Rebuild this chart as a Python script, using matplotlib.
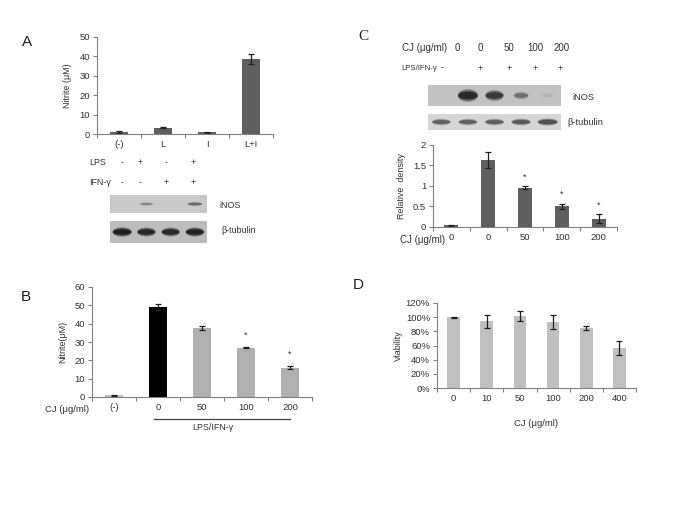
import matplotlib
matplotlib.use("Agg")
import matplotlib.pyplot as plt
from matplotlib.patches import Ellipse
from matplotlib.ticker import FuncFormatter
from matplotlib import transforms

plt.rcParams['font.family'] = ['Liberation Sans', 'DejaVu Sans']

# panel A
a_groups = ['(-)', 'L', 'I', 'L+I']
a_nitrite = [1.0, 3.2, 0.9, 38.5]
a_err = [0.3, 0.3, 0.3, 2.5]
a_lps = ['-', '+', '-', '+']
a_ifn = ['-', '-', '+', '+']
a_inos = [0.0, 0.3, 0.0, 0.45]
a_tub = [1.0, 0.92, 0.9, 0.95]

# panel B
b_doses = ['(-)', '0', '50', '100', '200']
b_nitrite = [1.0, 49.0, 37.8, 27.0, 16.0]
b_err = [0.3, 1.8, 1.0, 0.4, 0.8]
b_sig = [False, False, False, True, True]

# panel C
c_doses = ['0', '0', '50', '100', '200']
c_stim = ['-', '+', '+', '+', '+']
c_density = [0.04, 1.64, 0.96, 0.50, 0.20]
c_err = [0.01, 0.20, 0.03, 0.06, 0.11]
c_sig = [False, False, True, True, True]
c_inos = [0.0, 1.0, 0.8, 0.4, 0.06]
c_tub = [0.7, 0.7, 0.72, 0.75, 0.85]

# panel D
d_doses = ['0', '10', '50', '100', '200', '400']
d_viab = [1.00, 0.94, 1.02, 0.93, 0.85, 0.56]
d_err = [0.005, 0.09, 0.07, 0.10, 0.03, 0.10]

W, H = 685, 513
fig = plt.figure(figsize=(W / 100, H / 100), dpi=100)
fig.patch.set_facecolor('white')

TXT = '#303030'
AX = '#808080'
FS = 6.4


def px_axes(x0, y0, x1, y1):
    return fig.add_axes([x0 / W, 1 - y1 / H, (x1 - x0) / W, (y1 - y0) / H])


def style_bar_axes(ax, n, labels):
    for s in ['top', 'right']:
        ax.spines[s].set_visible(False)
    for s in ['left', 'bottom']:
        ax.spines[s].set_color(AX)
        ax.spines[s].set_linewidth(0.8)
    ax.set_xlim(-0.5, n - 0.5)
    ax.set_xticks([i - 0.5 for i in range(n + 1)])
    ax.set_xticklabels([])
    ax.tick_params(axis='x', which='major', length=3, color=AX, width=0.8)
    ax.set_xticks(range(n), minor=True)
    ax.set_xticklabels(labels, minor=True, fontsize=FS + 0.4, color=TXT)
    ax.tick_params(axis='x', which='minor', length=0, pad=4)
    ax.tick_params(axis='y', length=3, color=AX, width=0.8, labelsize=FS + 0.4,
                   labelcolor=TXT, pad=2)


def draw_blot(ax, vals, bg, band_w, band_h, core='#141414'):
    ax.set_xlim(-0.5, len(vals) - 0.5)
    ax.set_ylim(0, 1)
    ax.set_facecolor(bg)
    for s in ax.spines.values():
        s.set_visible(False)
    ax.set_xticks([])
    ax.set_yticks([])
    for i, v in enumerate(vals):
        if v <= 0:
            continue
        w = band_w * (0.55 + 0.45 * v)
        h = band_h * (0.35 + 0.65 * v)
        for f, a in [(1.25, 0.25), (1.0, 0.45), (0.7, 0.7)]:
            ax.add_patch(Ellipse((i, 0.5), w * (0.85 + 0.15 * f), h * f,
                                 facecolor=core, edgecolor='none', alpha=a * v))


err_kw = dict(ecolor='#202020', elinewidth=0.9, capsize=2.5, capthick=0.9)

# ---------------- A ----------------
axA = px_axes(97, 37, 273, 134)
axA.bar(range(len(a_groups)), a_nitrite, width=0.41, color='#5f5f5f',
        yerr=a_err, error_kw=err_kw)
axA.set_ylim(0, 50)
axA.set_yticks(range(0, 51, 10))
style_bar_axes(axA, len(a_groups), a_groups)
axA.set_ylabel('Nitrite (\u03bcM)', fontsize=FS, color=TXT, labelpad=5)
fig.text(27 / W, 1 - 42 / H, 'A', fontsize=11, color='#202020', ha='center', va='center')

bA1 = px_axes(110, 195, 207, 213)
draw_blot(bA1, a_inos, '#c9c9c9', 0.8, 0.3)
bA2 = px_axes(110, 221, 207, 243)
draw_blot(bA2, a_tub, '#bdbdbd', 0.78, 0.36, core='#0a0a0a')
fig.text(89 / W, 1 - 163 / H, 'LPS', fontsize=FS, color=TXT, va='center')
fig.text(89 / W, 1 - 183 / H, 'IFN-\u03b3', fontsize=FS, color=TXT, va='center')
a_sign_x = [122, 140, 166, 193]
for i in range(len(a_groups)):
    fig.text(a_sign_x[i] / W, 1 - 163 / H, a_lps[i], fontsize=FS, color=TXT,
             ha='center', va='center')
    fig.text(a_sign_x[i] / W, 1 - 183 / H, a_ifn[i], fontsize=FS, color=TXT,
             ha='center', va='center')
fig.text(219 / W, 1 - 205 / H, 'iNOS', fontsize=FS, color=TXT, va='center')
fig.text(221 / W, 1 - 231 / H, '\u03b2-tubulin', fontsize=FS, color=TXT, va='center')

# ---------------- B ----------------
axB = px_axes(92, 287, 312, 397)
b_colors = ['#c0c0c0', '#000000'] + ['#b0b0b0'] * (len(b_doses) - 2)
axB.bar(range(len(b_doses)), b_nitrite, width=0.41, color=b_colors,
        yerr=b_err, error_kw=err_kw)
axB.set_ylim(0, 60)
axB.set_yticks(range(0, 61, 10))
style_bar_axes(axB, len(b_doses), b_doses)
axB.set_ylabel('Nitrite(\u03bcM)', fontsize=FS, color=TXT, labelpad=5)
for i in range(len(b_doses)):
    if b_sig[i]:
        axB.text(i, b_nitrite[i] + b_err[i] + 4, '*', ha='center', va='bottom',
                 fontsize=FS, color=TXT)
fig.text(45 / W, 1 - 409 / H, 'CJ (\u03bcg/ml)', fontsize=FS + 0.4, color=TXT, va='center')
trB = transforms.blended_transform_factory(axB.transData, fig.transFigure)
axB.plot([0.9, len(b_doses) - 1], [1 - 419 / H] * 2, transform=trB,
         color='#404040', lw=0.9, clip_on=False)
fig.text(213 / W, 1 - 428 / H, 'LPS/IFN-\u03b3', fontsize=FS, color=TXT,
         ha='center', va='center')
fig.text(26 / W, 1 - 297 / H, 'B', fontsize=11, color='#202020', ha='center', va='center')

# ---------------- C ----------------
fig.text(363 / W, 1 - 36 / H, 'C', fontsize=11, color='#202020', ha='center', va='center',
         family='Liberation Serif')
bC1 = px_axes(428, 85, 561, 106)
draw_blot(bC1, c_inos, '#c2c2c2', 0.75, 0.5)
bC2 = px_axes(428, 114, 561, 130)
draw_blot(bC2, c_tub, '#d6d6d6', 0.8, 0.42, core='#303030')
fs_c = 7.0
fig.text(402 / W, 1 - 48 / H, 'CJ (\u03bcg/ml)', fontsize=fs_c, color=TXT, va='center')
fig.text(401 / W, 1 - 68 / H, 'LPS/IFN-\u03b3', fontsize=5.6, color=TXT, va='center')
c_dose_x = [457, 480, 509, 535, 562]
c_sign_x = [442, 480, 509, 535, 560]
for i in range(len(c_doses)):
    fig.text(c_dose_x[i] / W, 1 - 48 / H, c_doses[i], fontsize=fs_c, color=TXT,
             ha='center', va='center')
    fig.text(c_sign_x[i] / W, 1 - 68 / H, c_stim[i], fontsize=fs_c - 0.4, color=TXT,
             ha='center', va='center')
fig.text(572 / W, 1 - 97 / H, 'iNOS', fontsize=fs_c - 0.3, color=TXT, va='center')
fig.text(567 / W, 1 - 123 / H, '\u03b2-tubulin', fontsize=fs_c - 0.3, color=TXT, va='center')

axC = px_axes(433, 145, 617, 227)
axC.bar(range(len(c_doses)), c_density, width=0.38, color='#5f5f5f',
        yerr=c_err, error_kw=err_kw)
axC.set_ylim(0, 2)
axC.set_yticks([0, 0.5, 1, 1.5, 2])
axC.yaxis.set_major_formatter(FuncFormatter(lambda v, p: f'{v:g}'))
style_bar_axes(axC, len(c_doses), c_doses)
axC.set_ylabel('Relative  density', fontsize=FS, color=TXT, labelpad=5)
for i in range(len(c_doses)):
    if c_sig[i]:
        axC.text(i, c_density[i] + c_err[i] + 0.12, '*', ha='center', va='bottom',
                 fontsize=FS, color=TXT)
fig.text(400 / W, 1 - 240 / H, 'CJ (\u03bcg/ml)', fontsize=FS + 0.6, color=TXT, va='center')

# ---------------- D ----------------
axD = px_axes(437, 303, 636, 388)
axD.bar(range(len(d_doses)), d_viab, width=0.38, color='#c0c0c0',
        yerr=d_err, error_kw=err_kw)
axD.set_ylim(0, 1.2)
axD.set_yticks([0, 0.2, 0.4, 0.6, 0.8, 1.0, 1.2])
axD.yaxis.set_major_formatter(FuncFormatter(lambda v, p: f'{v * 100:.0f}%'))
style_bar_axes(axD, len(d_doses), d_doses)
axD.set_ylabel('Viability', fontsize=FS, color=TXT, labelpad=2)
axD.set_xlabel('CJ (\u03bcg/ml)', fontsize=FS + 0.4, color=TXT, labelpad=12)
fig.text(358 / W, 1 - 285 / H, 'D', fontsize=11, color='#202020', ha='center', va='center')

fig.savefig('out.png', dpi=100)
